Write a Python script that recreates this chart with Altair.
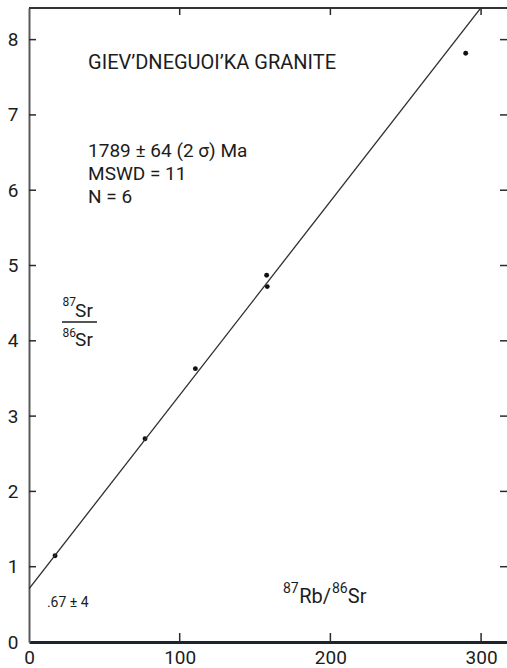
import math
import altair as alt
import pandas as pd

# Rb-Sr whole-rock isochron, Giev'dneguoi'ka granite
rb87_sr86 = [17.3, 77.0, 110.4, 157.7, 158.1, 289.8]
sr87_sr86 = [1.146, 2.70, 3.63, 4.87, 4.72, 7.82]

x_tick_values = [0, 100, 200, 300]
y_tick_values = [0, 1, 2, 3, 4, 5, 6, 7, 8]

# isochron: initial ratio and age (Rb-87 decay constant 1.42e-11 / yr)
initial_ratio = 0.7067
age_ma = 1789
decay_constant = 1.42e-11
isochron_slope = math.expm1(decay_constant * age_ma * 1e6)

X_MAX = 317.2
Y_MAX = 8.42
W, H = 478, 634
FONT = "Roboto"
INK = "#1c1c1c"

xs = alt.Scale(domain=[0, X_MAX], nice=False, zero=False)
ys = alt.Scale(domain=[0, Y_MAX], nice=False, zero=False)

points_df = pd.DataFrame({"rb": rb87_sr86, "sr": sr87_sr86})
line_x = [0, X_MAX]
line_df = pd.DataFrame({"rb": line_x,
                        "sr": [initial_ratio + isochron_slope * v for v in line_x]})

# the data points carry the two labelled axes
points = alt.Chart(points_df).mark_circle(size=24, color="#111", opacity=1).encode(
    x=alt.X("rb:Q", scale=xs,
            axis=alt.Axis(values=x_tick_values, format="d", title=None, grid=False,
                          ticks=False, domain=True, domainColor="#1b2431",
                          domainWidth=3, labelFont=FONT, labelFontSize=19,
                          labelColor=INK, labelPadding=6, labelFlush=False)),
    y=alt.Y("sr:Q", scale=ys,
            axis=alt.Axis(values=y_tick_values, format="d", title=None, grid=False,
                          ticks=False, domain=True, domainColor="#5a5a5a",
                          domainWidth=2, labelFont=FONT, labelFontSize=19,
                          labelColor=INK, labelPadding=11, labelFlush=False)),
)

isochron = alt.Chart(line_df).mark_line(color="#2e2e2e", strokeWidth=1.3, clip=True).encode(
    x=alt.X("rb:Q", scale=xs),
    y=alt.Y("sr:Q", scale=ys),
)

# inward tick marks on all four sides
ytk = pd.DataFrame({"v": y_tick_values[1:]})
xtk = pd.DataFrame({"v": x_tick_values[1:]})
tick_style = dict(color="#2a2a2a", strokeWidth=1.5)
left_ticks = alt.Chart(ytk).mark_rule(**tick_style).encode(
    y=alt.Y("v:Q", scale=ys), x=alt.value(0), x2=alt.value(7))
right_ticks = alt.Chart(ytk).mark_rule(**tick_style).encode(
    y=alt.Y("v:Q", scale=ys), x=alt.value(W - 7), x2=alt.value(W))
bottom_ticks = alt.Chart(xtk).mark_rule(**tick_style).encode(
    x=alt.X("v:Q", scale=xs), y=alt.value(H - 9), y2=alt.value(H))
top_ticks = alt.Chart(xtk).mark_rule(**tick_style).encode(
    x=alt.X("v:Q", scale=xs), y=alt.value(0), y2=alt.value(7))
top_frame = alt.Chart(pd.DataFrame({"v": [0]})).mark_rule(
    color="#333", strokeWidth=2).encode(
    y=alt.value(0), x=alt.value(0), x2=alt.value(W))

# text annotations (positions in data units)
notes = pd.DataFrame([
    {"t": "GIEV\u2019DNEGUOI\u2019KA  GRANITE", "x": 39.2, "y": 7.69, "s": 20},
    {"t": "1789 \u00b1 64 (2 \u03c3) Ma", "x": 39.2, "y": 6.52, "s": 19},
    {"t": "MSWD = 11", "x": 39.2, "y": 6.22, "s": 19},
    {"t": "N = 6", "x": 39.2, "y": 5.91, "s": 19},
    {"t": "87", "x": 22.3, "y": 4.51, "s": 12},
    {"t": "Sr", "x": 30.6, "y": 4.40, "s": 19},
    {"t": "86", "x": 22.3, "y": 4.11, "s": 12},
    {"t": "Sr", "x": 30.6, "y": 4.01, "s": 19},
    {"t": ".67 \u00b1 4", "x": 11.9, "y": 0.52, "s": 14},
    {"t": "87", "x": 168.5, "y": 0.70, "s": 14},
    {"t": "Rb/", "x": 179.3, "y": 0.60, "s": 20},
    {"t": "86", "x": 201.0, "y": 0.70, "s": 14},
    {"t": "Sr", "x": 211.6, "y": 0.60, "s": 20},
])
texts = alt.Chart(notes).mark_text(align="left", baseline="middle", font=FONT,
                                   color=INK).encode(
    x=alt.X("x:Q", scale=xs),
    y=alt.Y("y:Q", scale=ys),
    text="t:N",
    size=alt.Size("s:Q", scale=None, legend=None),
)

frac_bar = alt.Chart(pd.DataFrame({"x": [21.9], "x2": [45.1], "y": [4.25]})).mark_rule(
    color=INK, strokeWidth=1.6).encode(
    x=alt.X("x:Q", scale=xs), x2="x2:Q",
    y=alt.Y("y:Q", scale=ys))

chart = alt.layer(
    points, isochron, top_frame, left_ticks, right_ticks, bottom_ticks, top_ticks,
    texts, frac_bar,
).properties(
    width=W, height=H,
    autosize="none",
    padding={"left": 29, "top": 8, "right": 0, "bottom": 26},
    background="white",
).configure_view(stroke=None)

chart.save("out.html", embed_options={"renderer": "svg", "actions": False})
